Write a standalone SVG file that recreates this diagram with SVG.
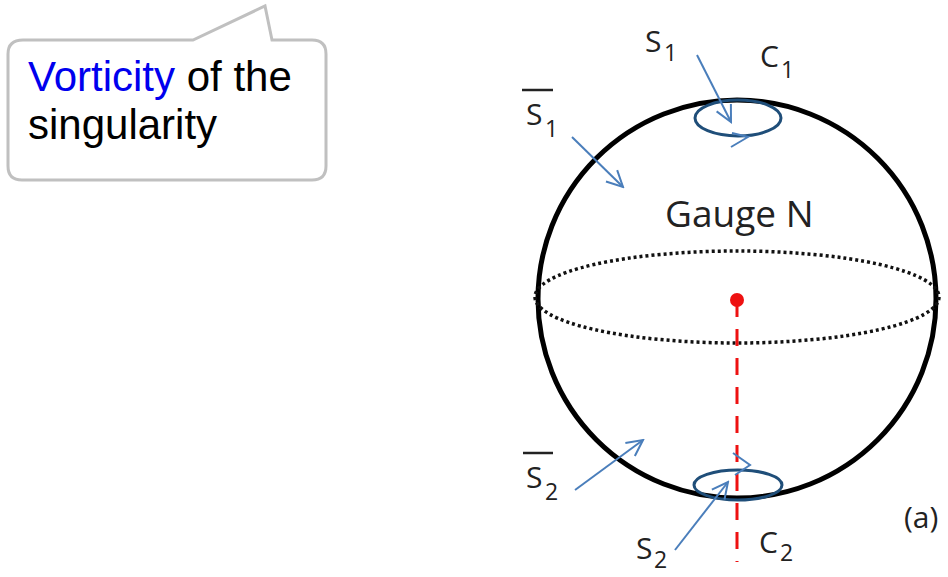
<svg xmlns="http://www.w3.org/2000/svg" width="948" height="577" viewBox="0 0 948 577">
<defs>
<style>
.lbl{font-family:"Open Sans","Liberation Sans",sans-serif;fill:#222;font-size:30px}
.sub{font-family:"Open Sans","Liberation Sans",sans-serif;fill:#222;font-size:23px}
.arr{stroke:#4a7ebb;stroke-width:2;fill:none}
.cir{stroke:#1f4e79;stroke-width:3;fill:none}
.call{font-family:"Liberation Sans",Arial,sans-serif;font-size:42px;fill:#000}
</style>
<marker id="ah" viewBox="0 0 20 20" refX="18" refY="10" markerWidth="20" markerHeight="20" markerUnits="userSpaceOnUse" orient="auto">
<path d="M2,2 L18,10 L2,18" fill="none" stroke="#4a7ebb" stroke-width="2"/>
</marker>
</defs>
<rect width="948" height="577" fill="#fff"/>
<g id="callout">
<path d="M23,40 H193 L265,6 L272,40 H312 Q326,40 326,54 V166 Q326,180 312,180 H22 Q8,180 8,166 V54 Q8,40 23,40 Z" fill="#fff" stroke="#c0c0c0" stroke-width="3"/>
<text class="call" x="28" y="91"><tspan fill="#0000ee">Vorticity</tspan> of the</text>
<text class="call" x="28" y="139">singularity</text>
</g>
<g id="sphere">
<circle cx="737" cy="299" r="199" fill="none" stroke="#000" stroke-width="5"/>
<ellipse cx="737" cy="297" rx="202" ry="46" fill="none" stroke="#111" stroke-width="3.5" stroke-dasharray="3 3"/>
</g>
<g id="singularity">
<line x1="737" y1="300" x2="737" y2="562" stroke="#ee1111" stroke-width="3" stroke-dasharray="17 12"/>
<circle cx="737" cy="300" r="7" fill="#ee1111"/>
</g>
<g id="C1">
<ellipse class="cir" cx="738" cy="118" rx="43" ry="18"/>
<path class="arr" d="M732,133 L748,137 L731,147"/>
</g>
<g id="C2">
<ellipse class="cir" cx="738" cy="485" rx="44" ry="15"/>
<path class="arr" d="M733,453 L750,465 L735,475"/>
</g>
<g id="connectors">
<line class="arr" x1="697" y1="55" x2="731" y2="122" marker-end="url(#ah)"/>
<line class="arr" x1="572" y1="137" x2="623" y2="187" marker-end="url(#ah)"/>
<line class="arr" x1="575" y1="490" x2="643" y2="440" marker-end="url(#ah)"/>
<line class="arr" x1="675" y1="550" x2="728" y2="482" marker-end="url(#ah)"/>
</g>
<g id="labels">
<text class="lbl" x="645" y="52">S</text><text class="sub" x="664" y="61">1</text>
<text class="lbl" x="760" y="67">C</text><text class="sub" x="781" y="78">1</text>
<line x1="522" y1="90" x2="553" y2="90" stroke="#222" stroke-width="2.5"/>
<text class="lbl" x="526" y="125">S</text><text class="sub" x="545" y="137">1</text>
<text class="lbl" x="665" y="227" style="font-size:37px">Gauge N</text>
<line x1="523" y1="453" x2="553" y2="453" stroke="#222" stroke-width="2.5"/>
<text class="lbl" x="526" y="488">S</text><text class="sub" x="545" y="500">2</text>
<text class="lbl" x="636" y="559">S</text><text class="sub" x="654" y="568">2</text>
<text class="lbl" x="759" y="553">C</text><text class="sub" x="780" y="561">2</text>
<text class="lbl" x="904" y="528">(a)</text>
</g>
</svg>
